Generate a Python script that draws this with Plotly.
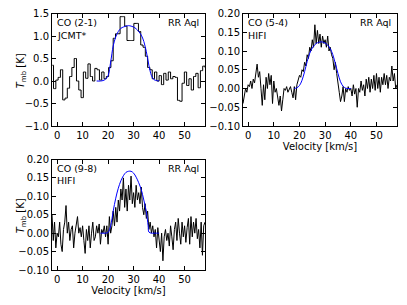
import numpy as np
import plotly.graph_objects as go

# ---------------- data ----------------
# Panel 1: CO (2-1) JCMT*, channel width 0.9 km/s, first centre -1.85
co21_v0 = -1.85
co21_dv = 0.9
co21_T = [0.35, -0.17, 0.02, 0.08, 0.25, -0.42, -0.38, -0.16, 0.1, 0.3,
          0.5, 0.0, -0.2, -0.37, 0.2, 0.06, 0.38, 0.1, 0.0, 0.28,
          0.25, 0.02, 0.2, 0.05, 0.1, 0.3, 0.45, 0.95, 1.05, 1.05,
          1.43, 1.43, 1.22, 0.9, 0.9, 0.9, 1.28, 1.28, 1.1, 0.8,
          0.75, 0.55, 0.3, 0.25, 0.05, 0.2, 0.0, 0.12, -0.08, 0.17,
          0.02, 0.2, 0.05, 0.1, 0.08, -0.43, -0.45, -0.05, 0.2, -0.1,
          0.05, -0.2, 0.1, 0.17, -0.15, 0.23, 0.33, 0.3]
co21_fit_v = [15.5, 17, 18, 19, 20, 21, 22, 23, 24, 25, 26, 27, 28, 29, 30,
              31, 32, 33, 34, 35, 36, 37, 38, 39, 40]
co21_fit_T = [0.0, 0.0, 0.01, 0.04, 0.12, 0.42, 0.78, 0.98, 1.1, 1.17, 1.2,
              1.22, 1.23, 1.22, 1.2, 1.16, 1.1, 1.02, 0.88, 0.65, 0.35, 0.12,
              0.03, 0.01, 0.0]

# Panels 2 and 3: HIFI, channel width 0.5 km/s from -2 to 58
hifi_v0 = -2.0
hifi_dv = 0.5
co54_T = [-0.04, -0.02, 0.0, -0.01, 0.01, 0.005, 0.02, 0.0, 0.025, 0.015,
          0.04, 0.065, 0.03, 0.045, 0.0, -0.045, 0.01, -0.03, 0.03, 0.0,
          0.04, 0.01, 0.035, -0.04, 0.02, -0.01, 0.0, -0.03, -0.045, -0.02,
          -0.06, -0.03, 0.0, -0.005, 0.005, -0.01, 0.0, 0.005, -0.01, -0.025,
          0.005, -0.03, 0.01, 0.025, 0.035, 0.03, 0.05, 0.045, 0.07, 0.06,
          0.09, 0.08, 0.11, 0.1, 0.13, 0.11, 0.17, 0.12, 0.155, 0.12,
          0.145, 0.11, 0.14, 0.12, 0.13, 0.11, 0.14, 0.1, 0.11, 0.09,
          0.08, 0.05, 0.07, 0.04, 0.02, -0.01, -0.035, -0.02, 0.005, -0.035,
          0.0, -0.01, 0.005, -0.005, 0.0, -0.02, 0.01, -0.015, 0.0, -0.05,
          0.0, -0.01, 0.02, -0.005, 0.01, -0.02, 0.025, 0.0, 0.03, -0.01,
          0.025, 0.0, 0.035, -0.005, 0.04, 0.0, 0.03, -0.01, 0.03, 0.01,
          0.04, 0.01, 0.035, 0.0, 0.03, 0.02, 0.06, 0.02, 0.04, 0.0,
          0.01]
co54_fit_v = [18, 19, 20, 21, 22, 23, 24, 25, 26, 27, 28, 29, 30, 31, 32,
              33, 34, 35, 36, 37, 38, 39, 40]
co54_fit_T = [0.0, 0.002, 0.008, 0.022, 0.045, 0.072, 0.094, 0.108, 0.117,
              0.122, 0.124, 0.124, 0.121, 0.116, 0.106, 0.09, 0.066, 0.04,
              0.018, 0.006, 0.001, 0.0, 0.0]

co98_T = [0.05, -0.02, 0.03, -0.04, 0.0, -0.01, 0.03, -0.03, -0.05, 0.01,
          0.03, 0.075, 0.0, 0.03, -0.02, 0.01, 0.02, -0.04, 0.0, 0.03,
          0.045, 0.0, 0.015, -0.01, 0.02, -0.02, -0.055, 0.01, -0.02, 0.02,
          -0.04, 0.0, 0.03, -0.02, -0.01, 0.02, 0.0, 0.025, -0.03, 0.01,
          0.0, 0.02, -0.01, 0.02, -0.03, 0.045, 0.0, 0.02, 0.06, 0.02,
          0.07, 0.03, 0.09, 0.06, 0.12, 0.09, 0.15, 0.07, 0.12, 0.06,
          0.13, 0.09, 0.155, 0.08, 0.11, 0.07, 0.13, 0.09, 0.11, 0.08,
          0.125, 0.07, 0.05, 0.08, 0.04, 0.06, 0.01, 0.03, 0.0, 0.02,
          -0.01, 0.01, -0.04, 0.015, -0.02, -0.05, 0.0, -0.075, -0.01, 0.01,
          -0.02, 0.0, -0.035, 0.02, -0.01, -0.045, 0.01, 0.03, -0.02, 0.04,
          0.0, -0.03, 0.03, -0.01, 0.02, -0.025, 0.015, 0.04, -0.03, 0.045,
          -0.01, 0.03, 0.0, 0.04, -0.015, 0.01, -0.04, 0.03, -0.06, 0.02,
          0.03]
co98_fit_v = [17, 18, 19, 20, 21, 22, 23, 24, 25, 26, 27, 28, 29, 30, 31,
              32, 33, 34, 35, 35.7, 36, 37, 38, 39, 40]
co98_fit_T = [0.0, 0.0, 0.0, 0.002, 0.02, 0.06, 0.095, 0.122, 0.142, 0.156,
              0.165, 0.168, 0.168, 0.163, 0.152, 0.137, 0.118, 0.09, 0.058,
              0.02, 0.003, 0.0, 0.0, 0.0, 0.0]

line_names = ["CO (2-1)", "CO (5-4)", "CO (9-8)"]
telescopes = ["JCMT*", "HIFI", "HIFI"]
star_name = "RR Aql"
x_ticks = [0, 10, 20, 30, 40, 50]

co21_v = co21_v0 + co21_dv * np.arange(len(co21_T))
hifi_v = hifi_v0 + hifi_dv * np.arange(len(co54_T))

# ---------------- figure ----------------
W, H = 407, 305
FONT = "DejaVu Sans"
FS = 10
FS_LAB = 9.5
fig = go.Figure()

def add_panel(i, v, T, fv, fT, shape):
    xa = "x" if i == 1 else f"x{i}"
    ya = "y" if i == 1 else f"y{i}"
    fig.add_trace(go.Scatter(x=v, y=T, mode="lines", line=dict(color="black", width=1, shape=shape),
                             xaxis=xa, yaxis=ya, showlegend=False, hoverinfo="skip"))
    fig.add_trace(go.Scatter(x=fv, y=fT, mode="lines", line=dict(color="#0000ff", width=1, shape="spline"),
                             xaxis=xa, yaxis=ya, showlegend=False, hoverinfo="skip"))

add_panel(1, co21_v, co21_T, co21_fit_v, co21_fit_T, "hvh")
add_panel(2, hifi_v, co54_T, co54_fit_v, co54_fit_T, "linear")
add_panel(3, hifi_v, co98_T, co98_fit_v, co98_fit_T, "linear")

def px_dom_x(a, b):
    return [a / W, b / W]

def px_dom_y(top, bottom):
    return [1 - bottom / H, 1 - top / H]

axis_common = dict(showline=True, linecolor="black", linewidth=1, mirror="allticks",
                   ticks="inside", ticklen=4, tickwidth=1, tickcolor="black",
                   showgrid=False, zeroline=False, automargin=False,
                   tickfont=dict(family=FONT, size=FS, color="black"))

xdoms = {1: px_dom_x(52, 205), 2: px_dom_x(243, 397), 3: px_dom_x(52, 205)}
tops = {1: 13.5, 2: 13.5, 3: 159.5}
bottoms = {1: 126, 2: 126, 3: 270}
ydoms = {i: px_dom_y(tops[i], bottoms[i]) for i in (1, 2, 3)}
yranges = {1: [-1.0, 1.5], 2: [-0.1, 0.2], 3: [-0.1, 0.2]}
ydt = {1: 0.5, 2: 0.05, 3: 0.05}
yfmt = {1: ".1f", 2: ".2f", 3: ".2f"}

layout = dict(width=W, height=H, margin=dict(l=0, r=0, t=0, b=0, autoexpand=False),
              paper_bgcolor="white", plot_bgcolor="white",
              font=dict(family=FONT, size=FS, color="black"))
for i in (1, 2, 3):
    xk = "xaxis" if i == 1 else f"xaxis{i}"
    yk = "yaxis" if i == 1 else f"yaxis{i}"
    ya = "y" if i == 1 else f"y{i}"
    xa = "x" if i == 1 else f"x{i}"
    xd = dict(axis_common, domain=xdoms[i], range=[-2, 58], tickvals=x_ticks, anchor=ya)
    if i in (2, 3):
        xd["title"] = dict(text="Velocity [km/s]", font=dict(family=FONT, size=FS), standoff=0)
    yd = dict(axis_common, domain=ydoms[i], range=yranges[i], dtick=ydt[i], tick0=0,
              tickformat=yfmt[i], anchor=xa)
    layout[xk] = xd
    layout[yk] = yd

def paper_y(px):
    return 1 - px / H

annotations = []
for i in (1, 2, 3):
    x0 = xdoms[i][0] * W
    x1 = xdoms[i][1] * W
    t = tops[i]
    annotations.append(dict(text=line_names[i - 1], xref="paper", yref="paper",
                            x=(x0 + 4) / W, y=paper_y(t + 9), xanchor="left", yanchor="middle",
                            borderpad=0, showarrow=False,
                            font=dict(family=FONT, size=FS_LAB, color="black")))
    annotations.append(dict(text=telescopes[i - 1], xref="paper", yref="paper",
                            x=(x0 + 4) / W, y=paper_y(t + 21.5), xanchor="left", yanchor="middle",
                            borderpad=0, showarrow=False,
                            font=dict(family=FONT, size=FS_LAB, color="black")))
    annotations.append(dict(text=star_name, xref="paper", yref="paper",
                            x=(x1 - 5) / W, y=paper_y(t + 9), xanchor="right", yanchor="middle",
                            borderpad=0, showarrow=False,
                            font=dict(family=FONT, size=FS_LAB, color="black")))
# y-axis titles of the left column
for i in (1, 3):
    yc = (tops[i] + bottoms[i]) / 2 + 1.5
    annotations.append(dict(text="<i>T</i><sub>mb</sub> [K]", xref="paper", yref="paper",
                            x=21 / W, y=paper_y(yc), xanchor="center", yanchor="middle",
                            textangle=-90, showarrow=False,
                            font=dict(family=FONT, size=FS, color="black")))
layout["annotations"] = annotations

fig.update_layout(**layout)
fig.write_html("out.html", config={"displayModeBar": False},
               post_script="document.body.style.margin='0';")
